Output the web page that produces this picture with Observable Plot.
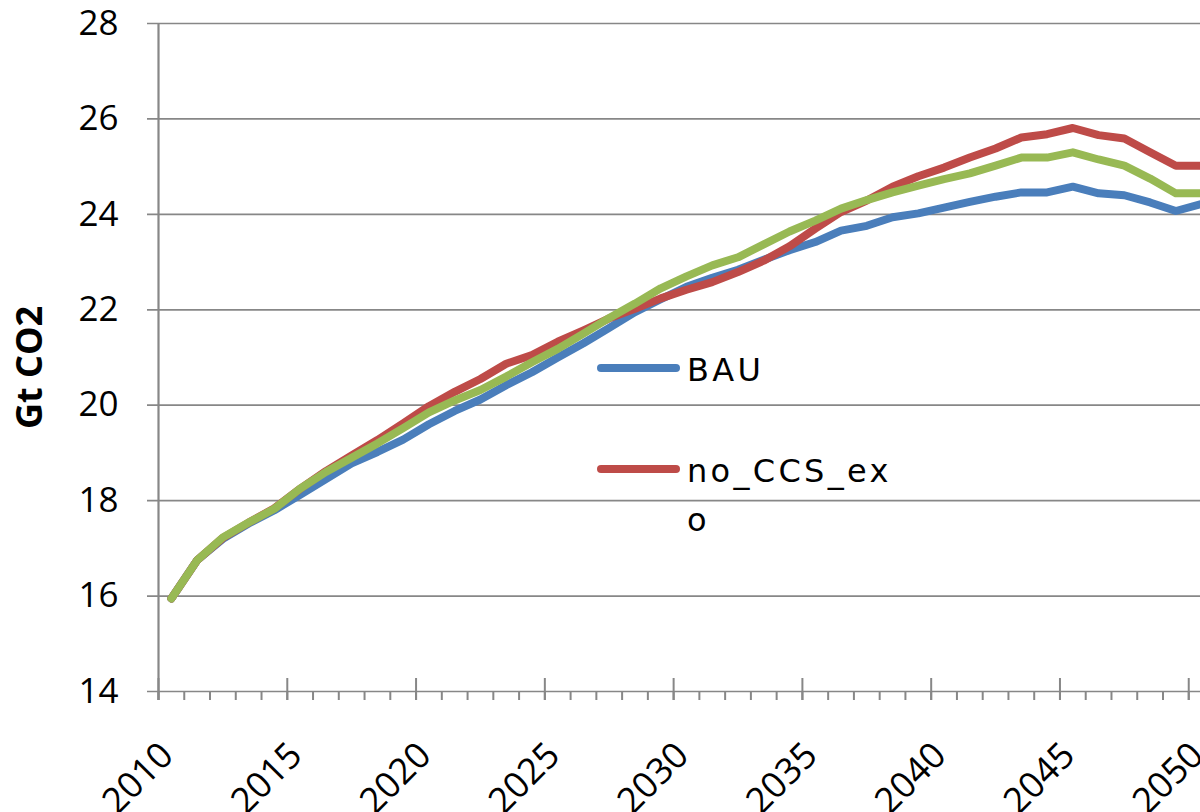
<!DOCTYPE html>
<html><head><meta charset="utf-8">
<script src="https://cdn.jsdelivr.net/npm/d3@7"></script>
<script src="https://cdn.jsdelivr.net/npm/@observablehq/plot@0.6"></script>
<style>
html,body{margin:0;padding:0;background:#fff;overflow:hidden;width:1200px;height:812px;}
#wrap{position:relative;width:1200px;height:812px;overflow:hidden;}
.leg{position:absolute;font-family:"DejaVu Sans";font-size:32px;letter-spacing:3.3px;color:#000;line-height:49px;white-space:nowrap;}
.sw{position:absolute;height:8px;border-radius:4px;}
</style></head><body><div id="wrap"></div>
<script>
const years = [2010,2011,2012,2013,2014,2015,2016,2017,2018,2019,2020,2021,2022,2023,2024,2025,2026,2027,2028,2029,2030,2031,2032,2033,2034,2035,2036,2037,2038,2039,2040,2041,2042,2043,2044,2045,2046,2047,2048,2049,2050];
const seriesNames = ["BAU", "no_CCS_exo", "series3"];
const seriesColors = ["#4A7EBB", "#BE4B48", "#98B954"];
const bau = [15.95,16.75,17.2,17.52,17.8,18.12,18.45,18.78,19.02,19.28,19.6,19.88,20.12,20.42,20.69,21.0,21.3,21.62,21.95,22.22,22.48,22.67,22.84,23.05,23.25,23.42,23.66,23.76,23.94,24.02,24.14,24.26,24.37,24.46,24.46,24.58,24.44,24.4,24.25,24.07,24.22];
const noCcsExo = [15.95,16.75,17.22,17.54,17.84,18.25,18.62,18.95,19.27,19.62,19.98,20.28,20.55,20.87,21.05,21.33,21.57,21.82,22.02,22.24,22.42,22.58,22.79,23.03,23.33,23.7,24.05,24.29,24.58,24.8,24.98,25.19,25.38,25.61,25.68,25.81,25.66,25.59,25.3,25.02,25.02];
const series3 = [15.95,16.75,17.23,17.54,17.83,18.25,18.6,18.9,19.2,19.52,19.85,20.1,20.32,20.6,20.9,21.18,21.5,21.83,22.13,22.45,22.7,22.93,23.1,23.37,23.64,23.87,24.12,24.3,24.46,24.6,24.74,24.86,25.02,25.19,25.19,25.3,25.15,25.02,24.75,24.44,24.44];
const yTicks = [14,16,18,20,22,24,26,28];
const xLabelYears = [2010,2015,2020,2025,2030,2035,2040,2045,2050];
const yTitle = "Gt CO2";
const legendLabels = [["BAU"], ["no_CCS_ex", "o"]];

const allSeries = [bau, noCcsExo, series3];
const table = [];
allSeries.forEach((vals, s) => vals.forEach((v, i) => table.push({series: seriesNames[s], year: years[i], value: v})));

const xMin = years[0] - 0.5, xMax = years[years.length - 1] + 0.5;
const yMin = yTicks[0];
const boundaries = years.map(y => y - 0.5);
const majors = boundaries.filter((b, i) => i % 5 === 0);
const gray = "#878787";

const chart = Plot.plot({
  width: 1214, height: 812,
  marginLeft: 158, marginRight: 0, marginTop: 23, marginBottom: 121,
  style: {fontFamily: "'Open Sans'", fontSize: "35px", background: "white", overflow: "visible", maxWidth: "none"},
  x: {type: "linear", domain: [xMin, xMax], axis: null},
  y: {domain: [yTicks[0], yTicks[yTicks.length - 1]], axis: null},
  color: {domain: seriesNames, range: seriesColors},
  marks: [
    Plot.ruleY(yTicks, {y: d => d, stroke: gray, strokeWidth: 1.7, insetLeft: -11}),
    Plot.ruleX(boundaries, {x: d => d, y1: () => yMin, y2: () => yMin, insetBottom: -9, stroke: gray, strokeWidth: 2}),
    Plot.ruleX(majors, {x: d => d, y1: () => yMin, y2: () => yMin, insetTop: -13, insetBottom: -9, stroke: gray, strokeWidth: 2}),
    Plot.ruleX([xMin], {x: d => d, insetBottom: -9, stroke: gray, strokeWidth: 2.2}),
    Plot.line(table, {x: "year", y: "value", z: "series", stroke: "series", strokeWidth: 8, strokeLinejoin: "round", strokeLinecap: "round"}),
    Plot.text(yTicks, {y: d => d, text: d => String(d), frameAnchor: "left", dx: -40, textAnchor: "end", fill: "black", fontSize: 35}),
    Plot.text(xLabelYears, {x: d => d, text: d => String(d), frameAnchor: "bottom", rotate: -45, textAnchor: "end", lineAnchor: "bottom", dx: 4, dy: 66, fill: "black", fontSize: 36}),
    Plot.text([yTitle], {text: d => d, frameAnchor: "left", dx: -128, dy: 10, rotate: -90, textAnchor: "middle", fontWeight: "bold", fontSize: 36, fill: "black"})
  ]
});
const wrap = document.getElementById("wrap");
wrap.appendChild(chart);

// legend (inside plot area, as in reference)
const legTop = [346, 447];
legendLabels.forEach((lines, i) => {
  const sw = document.createElement("div");
  sw.className = "sw";
  sw.style.left = "597px"; sw.style.width = "83px";
  sw.style.top = (legTop[i] + 18) + "px";
  sw.style.background = seriesColors[i];
  wrap.appendChild(sw);
  const tx = document.createElement("div");
  tx.className = "leg";
  tx.style.left = "687px"; tx.style.top = legTop[i] + "px";
  tx.innerHTML = lines.join("<br>");
  wrap.appendChild(tx);
});
</script></body></html>
